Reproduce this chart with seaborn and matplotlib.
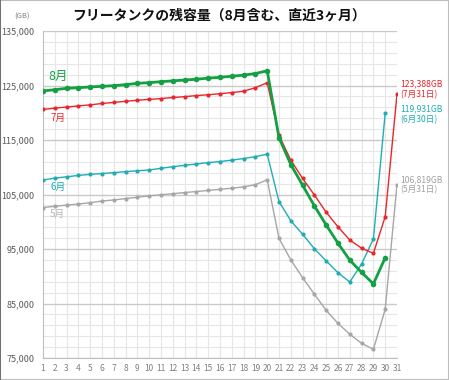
import matplotlib
matplotlib.use("Agg")
import matplotlib.pyplot as plt
import seaborn as sns
import pandas as pd
from matplotlib.patches import Rectangle

days = list(range(1, 32))
may = [102600, 102850, 103050, 103250, 103500, 103800, 104000, 104250, 104500, 104750,
       104950, 105150, 105350, 105550, 105750, 105950, 106150, 106400, 106800, 107700,
       96950, 93000, 89750, 86700, 83750, 81350, 79350, 77700, 76600, 83950, 106819]
jun = [107650, 108000, 108250, 108500, 108700, 108850, 109000, 109200, 109350, 109500,
       109800, 110100, 110350, 110600, 110850, 111050, 111300, 111600, 111950, 112400,
       103700, 100200, 97700, 95050, 92800, 90650, 88950, 92250, 96850, 119931]
jul = [120600, 120850, 121050, 121250, 121450, 121700, 121900, 122100, 122300, 122450,
       122600, 122800, 122950, 123150, 123300, 123500, 123700, 123950, 124600, 125500,
       115900, 111300, 107950, 104900, 101750, 99050, 96650, 95150, 94200, 100950, 123388]
aug = [124000, 124230, 124480, 124600, 124730, 124850, 124970, 125150, 125400, 125520,
       125700, 125850, 126000, 126150, 126350, 126500, 126700, 126900, 127200, 127700,
       115400, 110500, 106700, 102900, 99400, 96050, 92950, 90700, 88600, 93400]

month_labels = ["5月", "6月", "7月", "8月"]
end_labels = ["106,819GB\n(5月31日)", "119,931GB\n(6月30日)", "123,388GB\n(7月31日)"]
title = "フリータンクの残容量（8月含む、直近3ヶ月）"

sns.set_style("white")
plt.rcParams["font.family"] = ["Noto Sans CJK JP", "DejaVu Sans"]

GRAY = "#a6a6a6"
TEAL = "#1fadb3"
RED = "#e8262b"
GREEN = "#12a043"

fig = plt.figure(figsize=(4.49, 3.8), dpi=100)
ax = fig.add_axes([43 / 449, 1 - 358 / 380, (397 - 43) / 449, (358 - 31) / 380])

series = [(may, GRAY, 1.0, 3.0), (jun, TEAL, 1.0, 3.0), (jul, RED, 1.0, 3.0), (aug, GREEN, 2.0, 4.0)]
for vals, col, lw, ms in series:
    df = pd.DataFrame({"day": days[:len(vals)], "gb": vals})
    sns.lineplot(data=df, x="day", y="gb", ax=ax, color=col, linewidth=lw,
                 marker="o", markersize=ms, markeredgewidth=0, zorder=3)

ax.set_xlim(1, 31)
ax.set_ylim(75000, 135000)
ax.set_xticks(days)
ax.set_yticks(range(75000, 135001, 10000))
ax.set_yticks(range(75000, 135001, 2000), minor=True)
ax.set_yticklabels([f"{v:,}" for v in range(75000, 135001, 10000)])
ax.grid(which="major", axis="y", color="#c9c9c9", linewidth=1.0)
ax.grid(which="minor", axis="y", color="#e6e6e6", linewidth=0.8)
ax.grid(which="major", axis="x", color="#e6e6e6", linewidth=0.8)
ax.set_xlabel("")
ax.set_ylabel("")
for s in ["top", "right"]:
    ax.spines[s].set_visible(False)
ax.spines["left"].set_color("#bfbfbf")
ax.spines["bottom"].set_color("#bfbfbf")
ax.tick_params(axis="y", which="major", length=5, color="#bfbfbf", labelsize=6.5,
               labelcolor="#595959", pad=1)
ax.tick_params(axis="y", which="minor", length=0)
ax.tick_params(axis="x", length=0, labelsize=6, labelcolor="#808080", pad=4)

# month labels
ax.text(1.45, 126600, month_labels[3], color=GREEN, fontsize=9, va="center", ha="left")
ax.text(1.6, 119050, month_labels[2], color=RED, fontsize=7, va="center", ha="left")
ax.text(1.6, 106400, month_labels[1], color=TEAL, fontsize=7, va="center", ha="left")
ax.text(1.6, 101400, month_labels[0], color="#b5b5b5", fontsize=7, va="center", ha="left")

# end annotations
ax.annotate(end_labels[2], xy=(31, jul[-1]), xytext=(3, 5), textcoords="offset pixels",
            color=RED, fontsize=6.2, va="center", ha="left", linespacing=1.15,
            annotation_clip=False)
ax.annotate(end_labels[1], xy=(30, jun[-1]), xytext=(15, -1), textcoords="offset pixels",
            color=TEAL, fontsize=6.2, va="center", ha="left", linespacing=1.2,
            annotation_clip=False)
ax.annotate(end_labels[0], xy=(31, may[-1]), xytext=(3, 0), textcoords="offset pixels",
            color="#a0a0a0", fontsize=6.2, va="center", ha="left", linespacing=1.2,
            annotation_clip=False)

fig.text(219 / 449, 1 - 16 / 380, title, ha="center", va="center", fontsize=10,
         fontweight="bold", color="#111111")
fig.text(22 / 449, 1 - 17 / 380, "(GB)", ha="center", va="center", fontsize=5.5,
         color="#808080")

fig.patches.append(Rectangle((0, 0), 1, 1, transform=fig.transFigure, fill=False,
                             edgecolor="#bdbdbd", linewidth=1.5))
fig.patches.append(Rectangle((0, 0), 0.003, 1, transform=fig.transFigure, fill=True,
                             facecolor="#707070", edgecolor="none"))

fig.savefig("out.png", dpi=100)
